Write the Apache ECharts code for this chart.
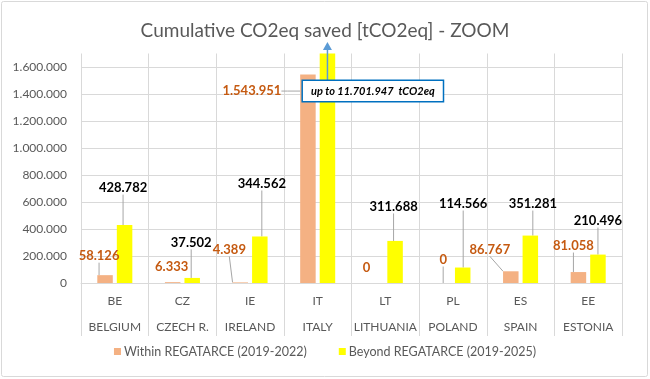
<!DOCTYPE html>
<html>
<head>
<meta charset="utf-8">
<script src="https://cdn.jsdelivr.net/npm/echarts@6/dist/echarts.min.js"></script>
<style>
html,body{margin:0;padding:0;background:#fff;}
#chart{width:650px;height:379px;}
</style>
</head>
<body>
<div id="chart"></div>
<script>
// ---- data ----
const titleText = 'Cumulative CO2eq saved [tCO2eq] - ZOOM';
const countryCodes = ['BE', 'CZ', 'IE', 'IT', 'LT', 'PL', 'ES', 'EE'];
const countryNames = ['BELGIUM', 'CZECH R.', 'IRELAND', 'ITALY', 'LITHUANIA', 'POLAND', 'SPAIN', 'ESTONIA'];
const seriesNames = ['Within REGATARCE (2019-2022)', 'Beyond REGATARCE (2019-2025)'];
const withinValues = [58126, 6333, 4389, 1543951, 0, 0, 86767, 81058];
const beyondValues = [428782, 37502, 344562, 11701947, 311688, 114566, 351281, 210496];
const yMin = 0, yMax = 1700000, yStep = 200000;
const calloutIndex = 3; // ITALY, beyond bar exceeds axis

// ---- label layout (offsets from default top label position) ----
const withinShift = [[-6,-12.5],[-1,-8.5],[-11,-26],[-56,23],[-9,-8.5],[0,-16.5],[-21,-15],[-5,-19.5]];
const beyondShift = [[-1.5,-30.5],[-1,-28.5],[2,-46],[0,0],[-1.5,-27.5],[0.5,-57],[2.5,-25],[0,-27]];
const withinLeader = [1,0,1,1,0,1,1,1];
const beyondLeader = [1,1,1,0,1,1,1,1];

function fmt(v){ return String(v).replace(/\B(?=(\d{3})+(?!\d))/g, '.'); }

const FONT = 'Lato, "Open Sans", sans-serif';
const GRID = '#d9d9d9';
const TXT = '#595959';

const chart = echarts.init(document.getElementById('chart'), null, {renderer: 'canvas'});

const withinData = withinValues.map((v, i) => ({
  value: v,
  labelLine: {show: !!withinLeader[i], length2: i === calloutIndex ? 6 : 0}
}));
const beyondData = beyondValues.map((v, i) => ({
  value: v,
  label: {show: i !== calloutIndex},
  labelLine: {show: !!beyondLeader[i]}
}));

const splitColors = [];
for (let v = yMin; v <= yMax; v += yStep) splitColors.push(GRID);
splitColors.push('rgba(0,0,0,0)');

const option = {
  animation: false,
  backgroundColor: '#fff',
  textStyle: {fontFamily: FONT},
  title: {
    text: titleText,
    left: 'center',
    top: 16,
    textStyle: {fontFamily: FONT, fontSize: 19, fontWeight: 'normal', color: TXT}
  },
  legend: {
    bottom: 16,
    left: 'center',
    icon: 'rect',
    itemWidth: 7,
    itemHeight: 7,
    itemGap: 32,
    textStyle: {fontFamily: FONT, fontSize: 12.5, color: TXT, padding: [0,0,0,-2]},
    data: seriesNames
  },
  grid: {left: 81, right: 28, top: 53.5, bottom: 96, containLabel: false, outerBoundsMode: 'none'},
  xAxis: [
    {
      type: 'category',
      data: countryCodes,
      position: 'bottom',
      axisLine: {show: true, lineStyle: {color: GRID, width: 1}},
      axisTick: {show: true, length: 53, lineStyle: {color: GRID}},
      splitLine: {show: true, lineStyle: {color: GRID, width: 1}},
      axisLabel: {color: TXT, fontFamily: FONT, fontSize: 12, margin: 12, interval: 0}
    },
    {
      type: 'category',
      data: countryNames,
      position: 'bottom',
      offset: 26,
      axisLine: {show: false},
      axisTick: {show: false},
      splitLine: {show: false},
      axisLabel: {color: TXT, fontFamily: FONT, fontSize: 12, margin: 12, interval: 0, hideOverlap: false}
    }
  ],
  yAxis: {
    type: 'value',
    min: yMin,
    max: yMax,
    interval: yStep,
    axisLine: {show: false},
    axisTick: {show: false},
    splitLine: {show: true, lineStyle: {color: splitColors, width: 1}},
    axisLabel: {
      color: TXT, fontFamily: FONT, fontSize: 12, margin: 14,
      showMaxLabel: false,
      formatter: v => (v > 1600000 ? '' : fmt(v))
    }
  },
  series: [
    {
      name: seriesNames[0],
      type: 'bar',
      xAxisIndex: 0,
      data: withinData,
      barWidth: 15.5,
      barGap: '26%',
      itemStyle: {color: '#F4B183'},
      label: {
        show: true, position: 'top', distance: 0,
        color: '#C55A11', fontFamily: FONT, fontWeight: 'bold', fontSize: 13,
        formatter: p => fmt(p.value)
      },
      labelLine: {show: true, lineStyle: {color: '#A6A6A6', width: 1}},
      labelLayout: p => ({dx: withinShift[p.dataIndex][0], dy: withinShift[p.dataIndex][1]})
    },
    {
      name: seriesNames[1],
      type: 'bar',
      xAxisIndex: 0,
      data: beyondData,
      barWidth: 15.5,
      barGap: '26%',
      clip: true,
      itemStyle: {color: '#FFFF00'},
      label: {
        show: true, position: 'top', distance: 0,
        color: '#000', fontFamily: FONT, fontWeight: 'bold', fontSize: 13,
        formatter: p => fmt(p.value)
      },
      labelLine: {show: true, lineStyle: {color: '#A6A6A6', width: 1}},
      labelLayout: p => ({dx: beyondShift[p.dataIndex][0], dy: beyondShift[p.dataIndex][1]})
    }
  ],
  graphic: [
    {
      type: 'rect', id: 'frame', z: -1, silent: true,
      shape: {x: 1.5, y: 1.5, width: 646, height: 375, r: 2},
      style: {fill: 'none', stroke: '#d9d9d9', lineWidth: 1}
    }
  ]
};
chart.setOption(option);

// annotation: arrow + callout for the off-scale bar
(function(){
  let cx;
  try {
    const lay = chart.getModel().getSeriesByIndex(1).getData().getItemLayout(calloutIndex);
    cx = lay.x + lay.width / 2;
  } catch (e) {
    cx = chart.convertToPixel({xAxisIndex: 0}, countryCodes[calloutIndex]) + 9.75;
  }
  const topY = chart.convertToPixel({yAxisIndex: 0}, yMax);
  const boxTop = topY + 27.5;
  chart.setOption({
    graphic: [
      {
        type: 'line', id: 'arrowLine', z: 100, silent: true,
        shape: {x1: cx, y1: topY - 4, x2: cx, y2: boxTop},
        style: {stroke: '#5B9BD5', lineWidth: 1.5}
      },
      {
        type: 'polygon', id: 'arrowHead', z: 100, silent: true,
        shape: {points: [[cx, topY - 11.5], [cx - 4.5, topY - 3.5], [cx + 4.5, topY - 3.5]]},
        style: {fill: '#5B9BD5'}
      },
      {
        type: 'text', id: 'callout', z: 101, silent: true,
        x: cx - 24.5, y: boxTop,
        style: {
          text: 'up to ' + fmt(beyondValues[calloutIndex]) + '  tCO2eq',
          fontFamily: FONT, fontSize: 11, fontWeight: 'bold', fontStyle: 'italic',
          fill: '#000', lineHeight: 13,
          backgroundColor: '#fff', borderColor: '#0070C0', borderWidth: 1.5,
          padding: [3.5, 8, 3.5, 8]
        }
      }
    ]
  });
})();
</script>
</body>
</html>
